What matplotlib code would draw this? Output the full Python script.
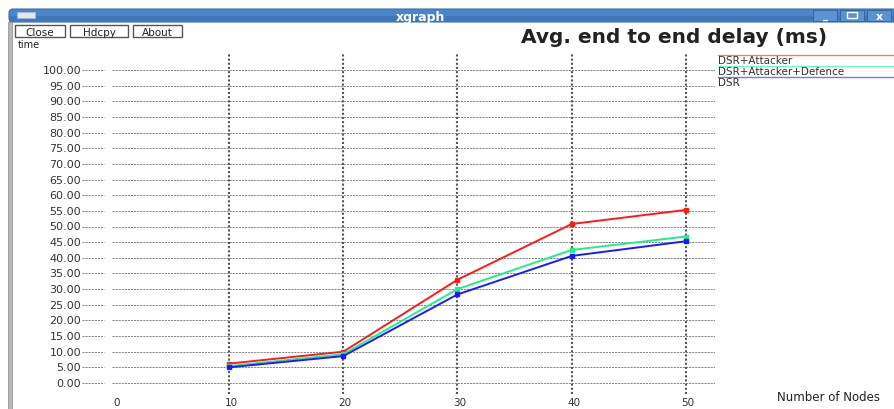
import matplotlib
matplotlib.use("Agg")
import matplotlib.pyplot as plt
from matplotlib.patches import Rectangle, FancyBboxPatch
import numpy as np

# ---- data ----
nodes = [10, 20, 30, 40, 50]
dsr_attacker = [6.2, 10.0, 33.0, 50.8, 55.3]
dsr_attacker_defence = [5.4, 9.2, 30.0, 42.5, 46.8]
dsr = [5.0, 8.6, 28.3, 40.6, 45.3]
series_names = ["DSR+Attacker", "DSR+Attacker+Defence", "DSR"]
y_ticks = [0, 5, 10, 15, 20, 25, 30, 35, 40, 45, 50, 55, 60, 65, 70, 75, 80, 85, 90, 95, 100]
x_ticks = [0, 10, 20, 30, 40, 50]

colors = ["#ff1a1a", "#22ee88", "#1a1aff"]

W, H = 894, 410
fig = plt.figure(figsize=(W / 100, H / 100), dpi=100)
fig.patch.set_facecolor("white")

# background / decoration axes in pixel coordinates
bg = fig.add_axes([0, 0, 1, 1])
bg.set_xlim(0, W)
bg.set_ylim(H, 0)
bg.axis("off")

# window title bar
bar = FancyBboxPatch((9, 10), W, 13, boxstyle="round,pad=0,rounding_size=4",
                     facecolor="#4a86c8", edgecolor="#3a6eaa", lw=0.8)
bg.add_patch(bar)
bg.add_patch(Rectangle((9, 17), W, 6, facecolor="#3f78bb", edgecolor="none"))
bg.add_patch(Rectangle((17, 13), 18, 6, facecolor="#dfe8f3", edgecolor="#9fb8d6", lw=0.6))
bg.text(420, 17, "xgraph", color="white", fontsize=9, fontweight="bold",
        ha="center", va="center", family="DejaVu Sans")
for bx in [813, 840, 867]:
    bg.add_patch(Rectangle((bx, 11), 24, 11, facecolor="#5a93d2", edgecolor="#2f5f99", lw=0.6))
bg.text(825, 16, "_", color="white", fontsize=7, ha="center", va="center", fontweight="bold")
bg.add_patch(Rectangle((847, 13), 10, 6, facecolor="none", edgecolor="white", lw=1))
bg.text(879, 16.5, "x", color="white", fontsize=8, ha="center", va="center", fontweight="bold")

# left window border
bg.add_patch(Rectangle((8, 23), 4, H, facecolor="#b8b8b8", edgecolor="#888888", lw=0.5))

# buttons
for (bx, bw, label) in [(15, 50, "Close"), (70, 58, "Hdcpy"), (133, 49, "About")]:
    bg.add_patch(Rectangle((bx, 26), bw, 12, facecolor="white", edgecolor="#555555", lw=1))
    bg.text(bx + bw / 2, 32.5, label, fontsize=7.5, ha="center", va="center", color="#222222")

bg.text(18, 45, "time", fontsize=7, ha="left", va="center", color="#222222")
bg.text(521, 37.5, "Avg. end to end delay (ms)", fontsize=14.5, fontweight="bold",
        ha="left", va="center", color="#222222")
bg.text(777, 398, "Number of Nodes", fontsize=8.5, ha="left", va="center", color="#222222")

# legend (xgraph style: line above label)
leg_y = [56, 67, 78]
for name, c, ly in zip(series_names, colors, leg_y):
    bg.plot([718, W], [ly, ly], color=c, lw=1.0, alpha=0.6)
    bg.text(718, ly + 5, name, fontsize=7.5, ha="left", va="center", color="#333333")

# data axes
px_left, px_right = 70, 715
px_top, px_bot = 55, 395
x_per_px = 40 / (686 - 229)
x0_px = 229 - 10 / x_per_px
xmin = (px_left - x0_px) * x_per_px
xmax = (px_right - x0_px) * x_per_px
y_per_px = 100 / (384 - 71)
ymin = -(px_bot - 384) * y_per_px
ymax = (384 - px_top) * y_per_px

ax = fig.add_axes([px_left / W, 1 - px_bot / H, (px_right - px_left) / W, (px_bot - px_top) / H])
ax.set_xlim(xmin, xmax)
ax.set_ylim(ymin, ymax)
ax.axis("off")
ax.patch.set_alpha(0)

gap_a = (104 - x0_px) * x_per_px
gap_b = (112 - x0_px) * x_per_px
hstart = (82 - x0_px) * x_per_px
for yv in y_ticks:
    ax.plot([hstart, gap_a], [yv, yv], color="#707070", lw=0.6, ls=(0, (2.5, 1.2)))
    ax.plot([gap_b, xmax], [yv, yv], color="#707070", lw=0.6, ls=(0, (2.5, 1.2)))
    ypx = 384 - yv / y_per_px
    bg.text(81, ypx, f"{yv:.2f}", fontsize=8, ha="right", va="center", color="#333333")

for xv in x_ticks[1:]:
    ax.plot([xv, xv], [ymin, ymax], color="#555555", lw=1.5, ls=(0, (1, 1)))

for xv in x_ticks:
    xpx = x0_px + xv / x_per_px
    bg.text(xpx + 2, 403.5, f"{xv}", fontsize=7.5, ha="center", va="center", color="#333333")

for vals, c in zip([dsr_attacker, dsr_attacker_defence, dsr], colors):
    ax.plot(nodes, vals, color=c, lw=1.4, marker="s", markersize=3.5,
            markerfacecolor=c, markeredgecolor=c, clip_on=False)

fig.savefig("out.png", dpi=100)
